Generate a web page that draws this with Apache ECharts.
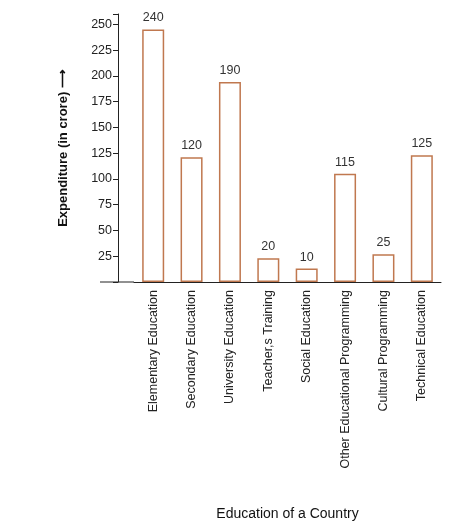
<!DOCTYPE html><html><head><meta charset="utf-8"><script src="https://cdn.jsdelivr.net/npm/echarts@6/dist/echarts.min.js"></script></head><body style="margin:0;background:#fff"><div id="c" style="width:474px;height:530px"></div><script>
const categories=["Elementary Education","Secondary Education","University Education","Teacher,s Training","Social Education","Other Educational Programming","Cultural Programming","Technical Education"];
const barValues=[245,121,194,23,13,105,27,123];
const valueLabels=["240","120","190","20","10","115","25","125"];
const yTicks=[25,50,75,100,125,150,175,200,225,250];
const ch=echarts.init(document.getElementById('c'));
ch.setOption({animation:false,
grid:{left:134,right:33,top:14,bottom:248},
xAxis:{type:'category',data:categories,axisLine:{lineStyle:{color:'#222'}},axisTick:{show:false},
axisLabel:{rotate:90,color:'#222',fontSize:12.5,fontFamily:'Liberation Sans',interval:0,margin:8},
name:'Education of a Country',nameLocation:'middle',nameGap:225,nameTextStyle:{color:'#111',fontSize:14,fontFamily:'Liberation Sans'}},
yAxis:{type:'value',min:0,max:260,interval:25,offset:16,splitLine:{show:false},
axisLine:{show:true,lineStyle:{color:'#222'}},axisTick:{show:true,length:5,lineStyle:{color:'#222'}},
axisLabel:{color:'#222',fontSize:12.5,fontFamily:'Liberation Sans',margin:6,formatter:v=>yTicks.includes(v)?String(v):''},
name:'Expenditure (in crore) ⟶',nameLocation:'middle',nameGap:48,nameTextStyle:{color:'#111',fontSize:13,fontWeight:'bold',fontFamily:'Liberation Sans'}},
graphic:[{type:'line',shape:{x1:100,y1:282,x2:134,y2:282},style:{stroke:'#222',lineWidth:1}}],
series:[{type:'bar',data:barValues,barWidth:22,itemStyle:{color:'#fff',borderColor:'#c0784f',borderWidth:1.5},
label:{show:true,position:'top',color:'#333',fontSize:12.5,fontFamily:'Liberation Sans',formatter:p=>valueLabels[p.dataIndex]}}]});
</script></body></html>
